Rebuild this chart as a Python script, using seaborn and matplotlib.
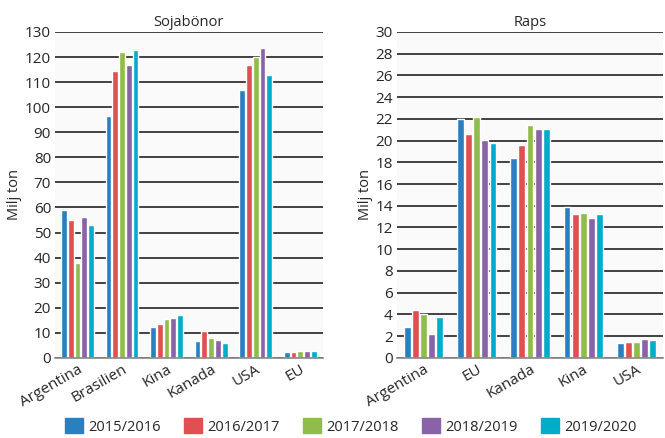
#import packages
import pandas as pd
import matplotlib.pyplot as plt
import seaborn as sns

#data
years = ["2015/2016", "2016/2017", "2017/2018", "2018/2019", "2019/2020"]
colors = ["#2a7fc0", "#e05050", "#8fbc4a", "#8a62a8", "#00acc9"]

soja_land = ["Argentina", "Brasilien", "Kina", "Kanada", "USA", "EU"]
soja_2015 = [58.8, 96.5, 12.2, 6.9, 106.9, 2.2]
soja_2016 = [55.0, 114.5, 13.6, 10.9, 117.0, 2.3]
soja_2017 = [38.0, 122.0, 15.3, 7.8, 120.0, 2.7]
soja_2018 = [56.0, 117.0, 15.9, 7.3, 123.7, 2.7]
soja_2019 = [53.0, 123.0, 17.0, 6.1, 113.0, 2.7]

raps_land = ["Argentina", "EU", "Kanada", "Kina", "USA"]
raps_2015 = [2.8, 22.0, 18.4, 13.9, 1.4]
raps_2016 = [4.4, 20.6, 19.6, 13.2, 1.5]
raps_2017 = [4.0, 22.2, 21.4, 13.3, 1.5]
raps_2018 = [2.2, 20.1, 21.1, 12.9, 1.7]
raps_2019 = [3.8, 19.8, 21.1, 13.2, 1.6]


def long_df(land, series):
    rows = []
    for yr, vals in zip(years, series):
        for l, v in zip(land, vals):
            rows.append({"land": l, "year": yr, "value": v})
    return pd.DataFrame(rows)


soja = long_df(soja_land, [soja_2015, soja_2016, soja_2017, soja_2018, soja_2019])
raps = long_df(raps_land, [raps_2015, raps_2016, raps_2017, raps_2018, raps_2019])

sns.set_style("white")
plt.rcParams['font.family'] = ['Open Sans', 'DejaVu Sans']

fig = plt.figure(figsize=(6.65, 4.38), dpi=100)
ax1 = fig.add_axes([0.083, 0.183, 0.402, 0.744])
ax2 = fig.add_axes([0.597, 0.183, 0.40, 0.744])


def draw(ax, df, order, title, ymax, step):
    sns.barplot(data=df, x="land", y="value", hue="year", order=order,
                hue_order=years, palette=colors, width=0.76, gap=0.15,
                saturation=1, ax=ax, legend=False)
    ax.set_facecolor("#fafafa")
    ax.set_ylim(0, ymax)
    ax.set_yticks(range(0, ymax + 1, step))
    ax.yaxis.grid(True, color="#222222", linewidth=1.2)
    ax.set_axisbelow(True)
    for s in ["top", "right", "left"]:
        ax.spines[s].set_visible(False)
    ax.spines["bottom"].set_color("#888888")
    ax.spines["bottom"].set_linewidth(1.2)
    ax.tick_params(axis="both", length=0, labelsize=11, pad=3)
    plt.setp(ax.get_xticklabels(), rotation=30, ha="right", rotation_mode="anchor")
    ax.set_title(title, fontsize=10.5, pad=4)
    ax.set_xlabel("")
    ax.set_ylabel("Milj ton", fontsize=10.5, labelpad=2)


draw(ax1, soja, soja_land, "Sojabönor", 130, 10)
draw(ax2, raps, raps_land, "Raps", 30, 2)

handles = [plt.Rectangle((0, 0), 1, 1, color=c) for c in colors]
fig.legend(handles, years, loc="lower center", ncol=5, frameon=False,
           bbox_to_anchor=(0.528, -0.022), fontsize=10.5, handlelength=1.2,
           handleheight=1.2, columnspacing=1.6, handletextpad=0.4)

fig.savefig("out.png", dpi=100)
